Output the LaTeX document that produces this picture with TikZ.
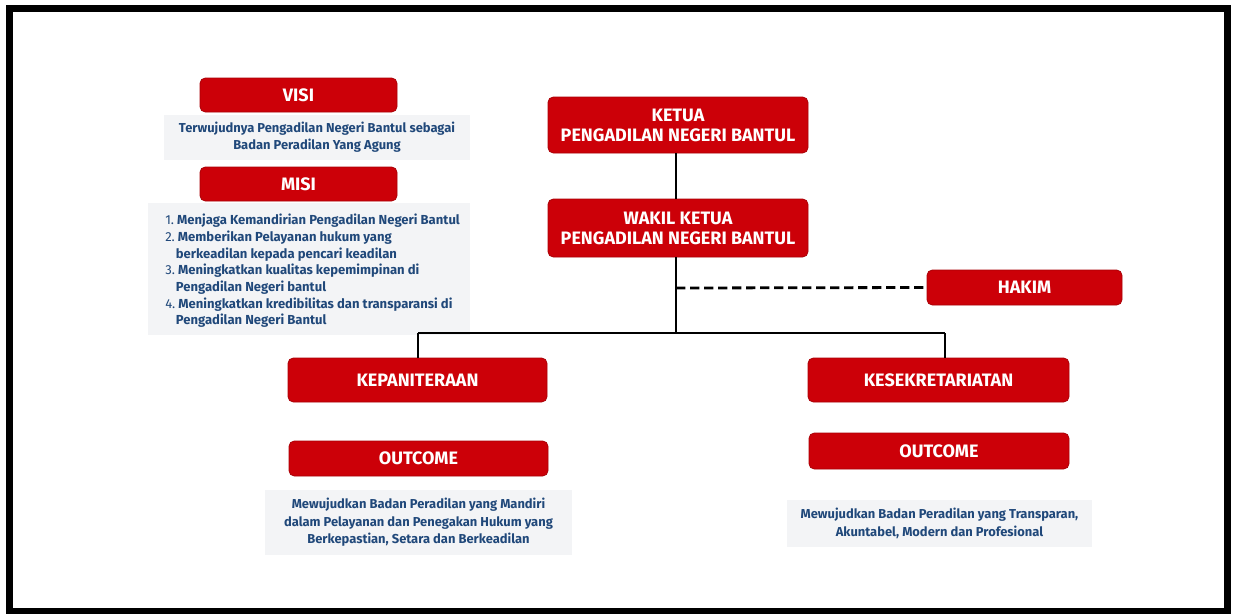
\documentclass[tikz,border=0pt]{standalone}
\usepackage{fontspec}
\setmainfont{Fira Sans}
\usetikzlibrary{fit}
\definecolor{pnred}{RGB}{204,0,8}
\definecolor{pnredd}{RGB}{170,0,6}
\definecolor{pnblue}{RGB}{32,72,122}
\definecolor{pngray}{RGB}{243,244,246}
\tikzset{
  redbox/.style={rectangle, rounded corners=4pt, fill=pnred, draw=pnredd, line width=0.6pt,
    inner sep=0pt},
  redlabel/.style={text=white, align=center, inner sep=0pt, font=\bfseries\fontsize{13.5}{15}\selectfont},
  graybox/.style={rectangle, fill=pngray, draw=none, inner sep=0pt},
  bluetext/.style={text=pnblue, align=center, inner sep=0pt, font=\bfseries\fontsize{9.7}{13}\selectfont},
  conn/.style={line width=2.1pt, black},
  dconn/.style={line width=2.1pt, black, dash pattern=on 7pt off 3.5pt},
}
\newcommand{\nmb}[1]{{\mdseries #1}\ }
\begin{document}
\begin{tikzpicture}[x=0.75pt,y=-0.75pt]
\useasboundingbox (0,0) rectangle (1236,614);
\fill[white] (0,0) rectangle (1236,614);
\draw[line width=5.25pt, black] (9.5,8.5) rectangle (1227.5,611.5);
% backgrounds
\node[graybox, fit={(164,115) (470,160)}] (visibg) {};
\node[graybox, fit={(148,203) (470,335)}] (misibg) {};
\node[graybox, fit={(265,490) (572,555)}] (outlbg) {};
\node[graybox, fit={(787,500) (1092,547)}] (outrbg) {};
% red boxes
\node[redbox, fit={(200,78) (397,112)}] (visi) {};
\node[redlabel] at (visi.center) {VISI};
\node[redbox, fit={(200,167) (397,201)}] (misi) {};
\node[redlabel] at (misi.center) {MISI};
\node[redbox, fit={(548,97) (808,153)}] (ketua) {};
\node[redlabel] at (ketua.center) {KETUA\\PENGADILAN NEGERI BANTUL};
\node[redbox, fit={(548,199) (808,257)}] (wakil) {};
\node[redlabel] at (wakil.center) {WAKIL KETUA\\PENGADILAN NEGERI BANTUL};
\node[redbox, fit={(927,270) (1122,305)}] (hakim) {};
\node[redlabel] at (hakim.center) {HAKIM};
\node[redbox, fit={(288,358) (547,402)}] (kepan) {};
\node[redlabel] at (kepan.center) {KEPANITERAAN};
\node[redbox, fit={(808,358) (1069,402)}] (kesek) {};
\node[redlabel] at (kesek.center) {KESEKRETARIATAN};
\node[redbox, fit={(289,441) (548,476)}] (outl) {};
\node[redlabel] at (outl.center) {OUTCOME};
\node[redbox, fit={(809,433) (1069,469)}] (outr) {};
\node[redlabel] at (outr.center) {OUTCOME};
% texts
\node[bluetext] (visit) at (visibg.center) {Terwujudnya Pengadilan Negeri Bantul sebagai\\Badan Peradilan Yang Agung};
\node[bluetext, align=left, anchor=north west, font=\bfseries\fontsize{9.8}{12.5}\selectfont] (misit) at (165,214) {\nmb{1.}Menjaga Kemandirian Pengadilan Negeri Bantul\\
\nmb{2.}Memberikan Pelayanan hukum yang\\
\hspace*{8pt}berkeadilan kepada pencari keadilan\\
\nmb{3.}Meningkatkan kualitas kepemimpinan di\\
\hspace*{8pt}Pengadilan Negeri bantul\\
\nmb{4.}Meningkatkan kredibilitas dan transparansi di\\
\hspace*{8pt}Pengadilan Negeri Bantul};
\node[bluetext] (outlt) at (outlbg.center) {Mewujudkan Badan Peradilan yang Mandiri\\dalam Pelayanan dan Penegakan Hukum yang\\Berkepastian, Setara dan Berkeadilan};
\node[bluetext] (outrt) at (outrbg.center) {Mewujudkan Badan Peradilan yang Transparan,\\Akuntabel, Modern dan Profesional};
% connectors
\coordinate (j) at (676,333);
\coordinate (jl) at (418,333);
\coordinate (jr) at (945,333);
\coordinate (jh) at (676,288);
\draw[conn] (ketua.south -| j) -- (wakil.north -| j);
\draw[conn] (wakil.south -| j) -- (j);
\draw[conn] (jl) -- (jr);
\draw[conn] (jl) -- (kepan.north -| jl);
\draw[conn] (jr) -- (kesek.north -| jr);
\draw[dconn] (jh) -- (hakim.west);
\end{tikzpicture}
\end{document}
